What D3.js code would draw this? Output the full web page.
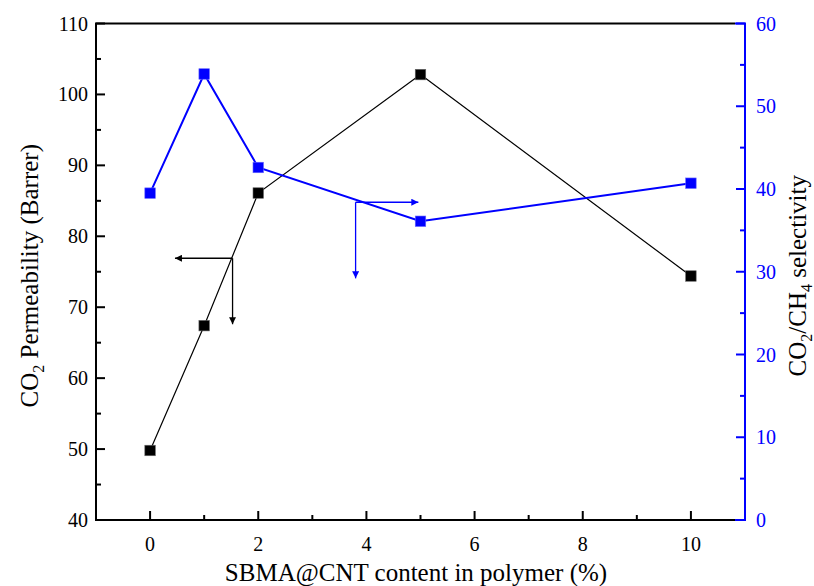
<!DOCTYPE html>
<html><head><meta charset="utf-8">
<script src="https://cdn.jsdelivr.net/npm/d3@7"></script>
<style>body{margin:0;background:#fff}svg{display:block}svg text{font-family:"Liberation Serif","Times New Roman",Tinos,serif}</style>
</head><body><svg id="c" width="814" height="586"></svg>
<script>
const xValues = [0, 1, 2, 5, 10];
const permeability = [49.8, 67.4, 86.1, 102.8, 74.4];
const selectivity = [39.5, 53.9, 42.6, 36.1, 40.7];
const xTicks = [0, 2, 4, 6, 8, 10];
const leftTicks = [40, 50, 60, 70, 80, 90, 100, 110];
const rightTicks = [0, 10, 20, 30, 40, 50, 60];
// annotation arrows (data coords): corner, horizontal tip x, vertical tip y
const blackArrow = {x: 1.525, y: 76.9, tipX: 0.46, tipY: 67.6};
const blueArrow = {x: 3.8, y: 38.4, tipX: 4.96, tipY: 29.2};

const FONT = '"Liberation Serif", "Times New Roman", Tinos, serif';
const svg = d3.select("#c");
const L = 96, R = 745, T = 23.5, B = 520;
const x = d3.scaleLinear().domain([-1, 11]).range([L, R]);
const yL = d3.scaleLinear().domain([40, 110]).range([B, T]);
const yR = d3.scaleLinear().domain([0, 60]).range([B, T]);
const BLUE = "#0000ff";

const defs = svg.append("defs");
function marker(id, color) {
  defs.append("marker").attr("id", id).attr("viewBox", "0 0 10 10").attr("refX", 10).attr("refY", 5)
    .attr("markerWidth", 15).attr("markerHeight", 7).attr("markerUnits", "userSpaceOnUse").attr("orient", "auto")
    .append("path").attr("d", "M0,0L10,5L0,10Z").attr("fill", color).attr("stroke", "none");
}
marker("ab", "#000"); marker("au", BLUE);

// x axis (bottom)
const xMinor = [1, 3, 5, 7, 9];
const xg = svg.append("g");
xg.selectAll(".mj").data(xTicks).join("line").attr("x1", d => x(d)).attr("x2", d => x(d)).attr("y1", B).attr("y2", B - 9).attr("stroke", "#000").attr("stroke-width", 2);
xg.selectAll(".mn").data(xMinor).join("line").attr("x1", d => x(d)).attr("x2", d => x(d)).attr("y1", B).attr("y2", B - 5).attr("stroke", "#000").attr("stroke-width", 2);
xg.selectAll("text").data(xTicks).join("text").style("font-family", FONT).attr("x", d => x(d)).attr("y", B + 31).attr("text-anchor", "middle").attr("font-size", 20).text(d => d);

// left axis
const lMinor = d3.range(45, 110, 10);
const lg = svg.append("g");
lg.selectAll(".mj").data(leftTicks).join("line").attr("y1", d => yL(d)).attr("y2", d => yL(d)).attr("x1", L).attr("x2", L + 9).attr("stroke", "#000").attr("stroke-width", 2);
lg.selectAll(".mn").data(lMinor).join("line").attr("y1", d => yL(d)).attr("y2", d => yL(d)).attr("x1", L).attr("x2", L + 5).attr("stroke", "#000").attr("stroke-width", 2);
lg.selectAll("text").data(leftTicks).join("text").style("font-family", FONT).attr("x", L - 8).attr("y", d => yL(d) + 7).attr("text-anchor", "end").attr("font-size", 20).text(d => d);

// right axis
const rMinor = d3.range(5, 60, 10);
const rg = svg.append("g");
rg.selectAll(".mj").data(rightTicks).join("line").attr("y1", d => yR(d)).attr("y2", d => yR(d)).attr("x1", R).attr("x2", R - 9).attr("stroke", BLUE).attr("stroke-width", 2);
rg.selectAll(".mn").data(rMinor).join("line").attr("y1", d => yR(d)).attr("y2", d => yR(d)).attr("x1", R).attr("x2", R - 5).attr("stroke", BLUE).attr("stroke-width", 2);
rg.selectAll("text").data(rightTicks).join("text").style("font-family", FONT).attr("x", R + 11).attr("y", d => yR(d) + 7).attr("text-anchor", "start").attr("font-size", 20).attr("fill", BLUE).text(d => d);

// frame
svg.append("path").attr("d", `M${R - 10},${T}H${L}V${B}H${R - 10}`).attr("fill", "none").attr("stroke", "#000").attr("stroke-width", 2);
svg.append("path").attr("d", `M${R - 10},${T}H${R}V${B}H${R - 10}`).attr("fill", "none").attr("stroke", BLUE).attr("stroke-width", 2);

// series lines
const lineL = d3.line().x((d, i) => x(xValues[i])).y(d => yL(d));
const lineR = d3.line().x((d, i) => x(xValues[i])).y(d => yR(d));
svg.append("path").attr("d", lineL(permeability)).attr("fill", "none").attr("stroke", "#000").attr("stroke-width", 1.2);
svg.append("path").attr("d", lineR(selectivity)).attr("fill", "none").attr("stroke", BLUE).attr("stroke-width", 2);

// markers
const S = 10.5;
svg.selectAll(".pb").data(permeability).join("rect").attr("x", (d, i) => x(xValues[i]) - S / 2).attr("y", d => yL(d) - S / 2)
  .attr("width", S).attr("height", S).attr("fill", "#000").attr("stroke", "#666").attr("stroke-width", 0.6);
svg.selectAll(".pu").data(selectivity).join("rect").attr("x", (d, i) => x(xValues[i]) - S / 2).attr("y", d => yR(d) - S / 2)
  .attr("width", S).attr("height", S).attr("fill", BLUE).attr("stroke", "#66f").attr("stroke-width", 0.6);

// arrows
function arrows(a, ys, color, mk) {
  const g = svg.append("g").attr("stroke", color).attr("stroke-width", 1.3).attr("fill", "none");
  g.append("line").attr("x1", x(a.x)).attr("y1", ys(a.y)).attr("x2", x(a.tipX)).attr("y2", ys(a.y)).attr("marker-end", `url(#${mk})`);
  g.append("line").attr("x1", x(a.x)).attr("y1", ys(a.y)).attr("x2", x(a.x)).attr("y2", ys(a.tipY)).attr("marker-end", `url(#${mk})`);
}
arrows(blackArrow, yL, "#000", "ab");
arrows(blueArrow, yR, BLUE, "au");

// axis titles
svg.append("text").style("font-family", FONT).attr("x", 416).attr("y", 581).attr("text-anchor", "middle").attr("font-size", 25).text("SBMA@CNT content in polymer (%)");
const lt = svg.append("text").style("font-family", FONT).attr("transform", `translate(38,${(T + B) / 2 + 4}) rotate(-90)`).attr("text-anchor", "middle").attr("font-size", 25);
lt.append("tspan").text("CO");
lt.append("tspan").attr("font-size", 16).attr("dy", 6).text("2");
lt.append("tspan").attr("dy", -6).text(" Permeability (Barrer)");
const rt = svg.append("text").style("font-family", FONT).attr("transform", `translate(806,${(T + B) / 2 + 4}) rotate(-90)`).attr("text-anchor", "middle").attr("font-size", 25);
rt.append("tspan").text("CO");
rt.append("tspan").attr("font-size", 16).attr("dy", 6).text("2");
rt.append("tspan").attr("dy", -6).text("/CH");
rt.append("tspan").attr("font-size", 16).attr("dy", 6).text("4");
rt.append("tspan").attr("dy", -6).text(" selectivity");
</script></body></html>
